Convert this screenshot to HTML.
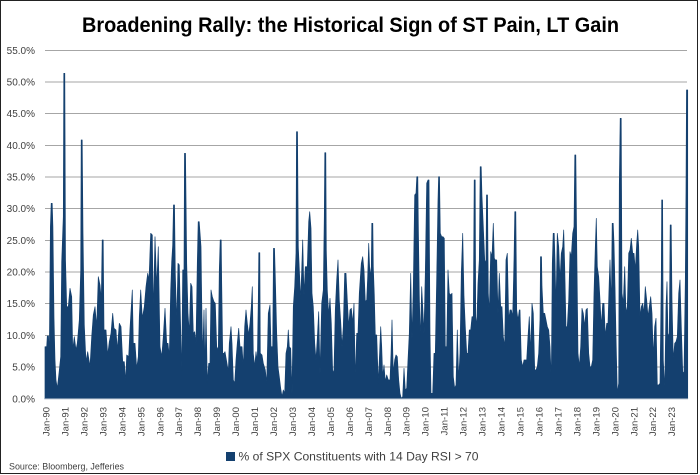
<!DOCTYPE html>
<html>
<head>
<meta charset="utf-8">
<style>
html,body{margin:0;padding:0;background:#fff;}
svg{display:block;}
text{font-family:"Liberation Sans",sans-serif;}
</style>
</head>
<body>
<svg width="700" height="475" viewBox="0 0 700 475" xmlns="http://www.w3.org/2000/svg">
<rect x="0" y="0" width="700" height="475" fill="#fff"/>
<rect x="0.5" y="0.5" width="697" height="473" fill="none" stroke="#222" stroke-width="1"/>

<text x="82" y="32" font-size="21" font-weight="bold" fill="#000" textLength="537" lengthAdjust="spacingAndGlyphs">Broadening Rally: the Historical Sign of ST Pain, LT Gain</text>

<g stroke="#a6a6a6" stroke-width="1">
<line x1="45" y1="50.5" x2="687" y2="50.5"/>
<line x1="45" y1="82" x2="687" y2="82"/>
<line x1="45" y1="113.5" x2="687" y2="113.5"/>
<line x1="45" y1="145.5" x2="687" y2="145.5"/>
<line x1="45" y1="177" x2="687" y2="177"/>
<line x1="45" y1="208.5" x2="687" y2="208.5"/>
<line x1="45" y1="240.5" x2="687" y2="240.5"/>
<line x1="45" y1="272" x2="687" y2="272"/>
<line x1="45" y1="303.5" x2="687" y2="303.5"/>
<line x1="45" y1="335.5" x2="687" y2="335.5"/>
<line x1="45" y1="367" x2="687" y2="367"/>
</g>

<g font-size="10" fill="#404040" text-anchor="end">
<text x="35" y="54">55.0%</text>
<text x="35" y="85.5">50.0%</text>
<text x="35" y="117">45.0%</text>
<text x="35" y="149">40.0%</text>
<text x="35" y="180.5">35.0%</text>
<text x="35" y="212">30.0%</text>
<text x="35" y="244">25.0%</text>
<text x="35" y="275.5">20.0%</text>
<text x="35" y="307">15.0%</text>
<text x="35" y="339">10.0%</text>
<text x="35" y="370.5">5.0%</text>
<text x="35" y="402.5">0.0%</text>
</g>

<path fill="#14406f" stroke="#14406f" stroke-width="0.7" stroke-linejoin="round" d="M45,399 L45,346.7 46.7,346.7 47.3,336 48.5,336 49.3,356.7 50.4,226.7 51.2,203.3 52.2,203.3 52.9,226.7 54,318.3 55,360 56,380 57.3,388.3 59,373.3 60.7,356.7 61.7,261.7 63.3,216.7 63.8,73.3 64.8,73.3 65.5,260 66.7,306.7 68.3,306.7 70,288.3 71.7,296.7 72.7,350 74.3,336.7 76,350 77.3,343.3 79.3,320 80.7,270 81.2,140 82.2,140 83,233.3 84.3,325 86,361.7 87.7,351.7 90,366.7 91.7,336.7 93.3,315 95,306.7 96.7,326.7 98.3,276.7 100,285 101.3,300 102.2,240 103.2,240 104,330 106,330 107.7,355 109.3,341.7 111,333.3 112.7,313.3 114,328.3 116,330 117.3,350 119.3,323.3 121,326.7 122.7,361.7 124.3,361.7 125.7,381.7 126.7,355 128.7,356.7 130,328.3 131.3,306.7 132.3,290 133.3,343.3 135,343.3 136.7,368.3 138.3,356.7 139.3,316.7 140.7,290 142.3,318.3 144.3,306.7 146,286.7 147.7,273.3 149,280 150.7,233.3 152.3,235 153.3,313.3 155,236.7 156.7,286.7 158.3,246.7 160,346.7 161.7,356.7 163.3,336.7 165,308.3 166.7,343.3 168,343.3 169.3,356.7 170.7,290 171.7,261.7 172.7,245 173.5,205 174.5,205 175.3,273.3 176.7,323.3 178,263.3 179.3,265 180.7,330 181.7,376.7 182.7,270 184,270 184.5,153.3 185.5,153.3 186.7,263.3 188,313.3 189.3,333.3 190.7,283.3 192,286.7 193.3,333.3 194.7,331.7 196,343.3 197.3,263.3 198.2,221.7 199.2,221.7 201,246.7 201.7,300 202.7,356.7 204,310 205,371.7 206,308.3 207.3,383.3 208.7,363.3 210,363.3 211,290 212.3,296.7 214,301.7 215.3,303.3 216.7,346.7 218.3,350 219.3,270 220.2,240 221.2,240 221.7,283.3 222.7,353.3 224,353.3 225,351.7 226.7,361.7 228.3,371.7 229.3,343.3 231,326.7 232,343.3 233.3,380 234.7,383.3 236,360 237.3,343.3 238.7,328.3 240,346.7 242,346.7 243.3,366.7 244.7,326.7 246,310 247.3,323.3 248.7,335 250,323.3 251.3,306.7 252.3,286.7 253.3,353.3 254.7,366.7 256,351.7 257.3,361.7 258.3,300 258.8,252.7 259.8,252.7 260.3,353.3 262,355 263.3,363.3 265.3,370 266.7,383.3 268.3,313.3 270,305 271,346.7 272.7,346.7 273.5,248.3 274.5,248.3 275.3,276.7 276.7,333.3 278,366.7 279.3,376.7 280.7,388.3 282,396.7 283.3,390 284.7,393.3 286,353.3 287.3,346.7 288.3,330 289.3,346.7 290.7,348.3 292,393.3 293.3,306.7 294.7,286.7 296,253.3 296.5,131.7 297.5,131.7 298.3,246.7 300.7,300 302.7,240 304,295 305.3,266.7 307.3,266.7 308.7,221.7 309.7,211.7 311,228.3 312,293.3 313.3,306.7 314.7,343.3 316,360 317.3,338.3 318.7,311.7 320,373.3 321.7,303.3 323.3,290 324.3,216.7 324.8,152.7 325.8,152.7 326.3,250 327.3,290 328.7,315 330,298.3 331.3,323.3 332.7,373.3 334,370 335.3,310 336.7,280 338,260 339.3,300 340.7,321.7 342,346.7 343.3,326.7 344.7,273.3 346,273.3 347.3,300 348.7,326.7 350,310 351.3,308.3 352.7,323.3 354,303.3 355.3,380 356.7,333.3 358,333.3 359.3,293.3 361.3,263.3 362.7,256.7 364,270 365.3,301.7 366.7,300 367.7,276.7 368.7,243.3 370,276.7 371.3,266.7 371.8,223.3 372.8,223.3 373.3,266.7 374.3,295 375.3,335 376.7,335 378.3,383.3 379.3,360 380.7,326.7 381.7,346.7 382.7,376.7 384,365 385.3,381.7 386.7,375 388.3,380 390,380 391,355 392,320 393.3,373.3 394.7,360 396,355 397.3,356.7 398.7,380 400,393.3 401.3,398.3 402.7,396.7 404,368.3 405.3,390 406.7,388.3 408,360 409.3,333.3 410.7,273.3 412,338.3 413.3,286.7 414.7,195 416,193.3 416.8,176.7 417.8,176.7 418.3,223.3 419.3,295 420.3,340 421.7,286.7 422.7,306.7 424,333.3 425.3,273.3 426.7,183.3 428,180 429,180 430,333.3 431,393.3 432.7,393.3 434,353.3 435.3,353.3 436.7,278.3 438,200 438.6,176.7 439.5,176.7 440.3,233.3 441.7,236.7 443,236.7 444.3,238.3 445.3,346.7 446.7,346.7 448,270 449.3,293.3 450.7,295 452,293.3 453.3,376.7 454.7,388.3 456,385 457.3,330 458.7,380 460,353.3 461.3,273.3 462.7,233.3 464,296.7 465.3,326.7 466.7,353.3 468,353.3 469.3,330 470.7,330 472,316.7 473.3,316.7 474.2,180 475.2,180 475.7,316.7 476.7,326.7 478,283.3 479.3,260 480.2,166.7 481.2,166.7 482,196.7 483.3,226.7 484.7,260 486,263.3 486.5,195 487.5,195 488.3,293.3 489.3,313.3 490.7,251.7 492,256.7 493.3,223.3 494.3,258.3 495.3,260 496.7,260 498,313.3 499.3,273.3 500.7,306.7 502,306.7 503.3,336.7 504.7,346.7 506,260 507.3,253.3 508.7,320 510,310 511.3,310 512.7,316.7 514,260 514.8,211.7 515.8,211.7 516.7,310 518,320 519.3,310 520,310 521.3,360 522.7,366.7 524,360 526.7,360 528,336.7 529.3,316.7 530.7,353.3 532,303.3 533.3,313.3 534.7,370 536,370 537.3,366.7 538.7,353.3 540,320 540.5,256.7 541.5,256.7 542,286.7 543.3,313.3 544.7,313.3 546,320 547.3,326.7 548.7,330 550,346.7 551.3,380 552.3,263.3 553.2,233.3 554.2,233.3 555,260 556,308.3 557.3,233.3 558.7,246.7 560,280 561.3,253.3 562.7,246.7 563.7,230 564.7,266.7 566,326.7 567.3,326.7 568.7,300 570,251.7 571.3,256.7 572.7,233.3 574,226.7 574.8,155 575.8,155 576.7,243.3 578,353.3 579.3,366.7 580.7,346.7 582,308.3 583.3,313.3 584.7,326.7 586,310 587.3,308.3 588.7,353.3 590,366.7 591.3,366.7 592.7,360 594,293.3 595.3,246.7 596.3,218.3 597.3,266.7 598.7,276.7 600,300 601.3,326.7 602.7,303.3 604,303.3 605.3,336.7 606.7,323.3 608,323.3 609.3,280 610,260 611.3,306.7 612.2,223.3 613.2,223.3 614,243.3 615,286.7 616,336.7 617.3,393.3 618.7,383.3 619.3,185 620.2,118.3 621.2,118.3 622,293.3 623.3,303.3 624.7,266.7 626,313.3 627.3,306.7 628.7,253.3 630,250 631.3,238.3 632.7,253.3 634,253.3 635.3,270 636.7,243.3 637.7,230 638.7,246.7 640,316.7 641.3,306.7 642.7,303.3 644,313.3 645.3,286.7 646.7,300 648,316.7 649.3,306.7 650.7,296.7 652,313.3 653.3,356.7 654.7,326.7 656,318.3 657.3,385 658.7,385 660,383.3 661.3,276.7 661.7,200 662.6,200 663.3,360 664.7,390 666,306.7 667,281.7 668,336.7 669.3,333.3 670.2,225 671.2,225 672,300 673.3,360 674.7,343.3 676,341.7 677.3,336.7 678.7,293.3 680,280 681.3,326.7 682.7,371.7 684,373.3 685.3,281.7 686,191.7 686.5,90 687.7,90 687.7,399 Z"/>

<line x1="45" y1="399" x2="688" y2="399" stroke="#c9cfd8" stroke-width="1"/>

<g font-size="9.5" fill="#404040" text-anchor="end">
<text transform="translate(49.5,407) rotate(-90)">Jan-90</text>
<text transform="translate(68.5,407) rotate(-90)">Jan-91</text>
<text transform="translate(87.4,407) rotate(-90)">Jan-92</text>
<text transform="translate(106.4,407) rotate(-90)">Jan-93</text>
<text transform="translate(125.3,407) rotate(-90)">Jan-94</text>
<text transform="translate(144.3,407) rotate(-90)">Jan-95</text>
<text transform="translate(163.3,407) rotate(-90)">Jan-96</text>
<text transform="translate(182.2,407) rotate(-90)">Jan-97</text>
<text transform="translate(201.2,407) rotate(-90)">Jan-98</text>
<text transform="translate(220.1,407) rotate(-90)">Jan-99</text>
<text transform="translate(239.1,407) rotate(-90)">Jan-00</text>
<text transform="translate(258.1,407) rotate(-90)">Jan-01</text>
<text transform="translate(277,407) rotate(-90)">Jan-02</text>
<text transform="translate(296,407) rotate(-90)">Jan-03</text>
<text transform="translate(314.9,407) rotate(-90)">Jan-04</text>
<text transform="translate(333.9,407) rotate(-90)">Jan-05</text>
<text transform="translate(352.9,407) rotate(-90)">Jan-06</text>
<text transform="translate(371.8,407) rotate(-90)">Jan-07</text>
<text transform="translate(390.8,407) rotate(-90)">Jan-08</text>
<text transform="translate(409.7,407) rotate(-90)">Jan-09</text>
<text transform="translate(428.7,407) rotate(-90)">Jan-10</text>
<text transform="translate(447.7,407) rotate(-90)">Jan-11</text>
<text transform="translate(466.6,407) rotate(-90)">Jan-12</text>
<text transform="translate(485.6,407) rotate(-90)">Jan-13</text>
<text transform="translate(504.5,407) rotate(-90)">Jan-14</text>
<text transform="translate(523.5,407) rotate(-90)">Jan-15</text>
<text transform="translate(542.5,407) rotate(-90)">Jan-16</text>
<text transform="translate(561.4,407) rotate(-90)">Jan-17</text>
<text transform="translate(580.4,407) rotate(-90)">Jan-18</text>
<text transform="translate(599.3,407) rotate(-90)">Jan-19</text>
<text transform="translate(618.3,407) rotate(-90)">Jan-20</text>
<text transform="translate(637.3,407) rotate(-90)">Jan-21</text>
<text transform="translate(656.2,407) rotate(-90)">Jan-22</text>
<text transform="translate(675.2,407) rotate(-90)">Jan-23</text>
</g>

<rect x="226" y="452" width="9" height="9" fill="#14406f"/>
<text x="238.5" y="460.5" font-size="11.6" fill="#404040" textLength="240" lengthAdjust="spacingAndGlyphs">% of SPX Constituents with 14 Day RSI &gt; 70</text>

<text x="9" y="469.5" font-size="8.8" fill="#404040" textLength="115" lengthAdjust="spacingAndGlyphs">Source: Bloomberg, Jefferies</text>
</svg>
</body>
</html>
